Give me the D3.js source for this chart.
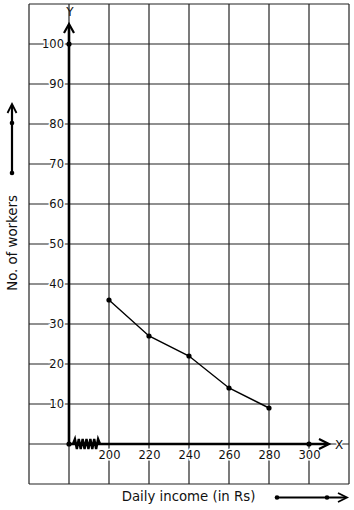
<!DOCTYPE html>
<html>
<head>
<meta charset="utf-8">
<script src="https://cdn.jsdelivr.net/npm/d3@7"></script>
<style>
  html, body { margin: 0; padding: 0; background: #fff; }
  svg { display: block; }
  text { font-family: "DejaVu Sans", sans-serif; fill: #111; }
</style>
</head>
<body>
<svg id="chart" width="354" height="510"></svg>
<script>
// ---- data ----
const incomes = [200, 220, 240, 260, 280];
const workers = [36, 27, 22, 14, 9];
const xTickValues = [200, 220, 240, 260, 280, 300];
const yTickValues = [10, 20, 30, 40, 50, 60, 70, 80, 90, 100];
const xGridValues = [160, 180, 200, 220, 240, 260, 280, 300, 320];
const yGridValues = [-10, 0, 10, 20, 30, 40, 50, 60, 70, 80, 90, 100, 110];
const axisDots = [{x: 180, y: 0}, {x: 180, y: 100}, {x: 300, y: 0}];
const xTitle = "Daily income (in Rs)";
const yTitle = "No. of workers";

// ---- scales ----
const svg = d3.select("#chart");
const x = d3.scaleLinear().domain([160, 320]).range([29, 349]);
const y = d3.scaleLinear().domain([-10, 110]).range([484, 4]);

// ---- grid ----
const grid = svg.append("g").attr("stroke", "#222").attr("stroke-width", 1.2);
grid.selectAll("line.v").data(xGridValues).join("line")
  .attr("x1", d => x(d)).attr("x2", d => x(d))
  .attr("y1", y(110)).attr("y2", y(-10));
grid.selectAll("line.h").data(yGridValues).join("line")
  .attr("x1", x(160)).attr("x2", x(320))
  .attr("y1", d => y(d)).attr("y2", d => y(d));

// ---- tick labels via d3 axes ----
const yAxis = d3.axisLeft(y).tickValues(yTickValues).tickSize(0).tickPadding(5);
const gy = svg.append("g").attr("transform", `translate(${x(180)},0)`).call(yAxis);
gy.select(".domain").remove();
gy.selectAll("text").attr("font-size", 11.5).attr("font-family", "DejaVu Sans")
  .attr("fill", "#111").attr("stroke", "#fff").attr("stroke-width", 3)
  .attr("paint-order", "stroke");

const xAxis = d3.axisBottom(x).tickValues(xTickValues).tickSize(0).tickPadding(7);
const gx = svg.append("g").attr("transform", `translate(0,${y(0)})`).call(xAxis);
gx.select(".domain").remove();
gx.selectAll("text").attr("font-size", 11.5).attr("font-family", "DejaVu Sans")
  .attr("fill", "#111").attr("stroke", "#fff").attr("stroke-width", 3)
  .attr("paint-order", "stroke");

// ---- main axes (thick, with arrows) ----
const axes = svg.append("g").attr("stroke", "#000").attr("fill", "none")
  .attr("stroke-width", 2.6);
const ox = x(180), oy = y(0);
const yTop = 24, xEnd = 329;
axes.append("line").attr("x1", ox).attr("y1", oy).attr("x2", ox).attr("y2", yTop + 1);
axes.append("path").attr("d", `M${ox - 5},${yTop + 9} L${ox},${yTop} L${ox + 5},${yTop + 9}`)
  .attr("stroke-width", 2.2);
axes.append("line").attr("x1", ox).attr("y1", oy).attr("x2", xEnd - 1).attr("y2", oy);
axes.append("path").attr("d", `M${xEnd - 10},${oy - 5} L${xEnd},${oy} L${xEnd - 10},${oy + 5}`)
  .attr("stroke-width", 2.2);

// zigzag (axis break)
const zz = [];
const zx0 = 73, zx1 = 100, teeth = 14;
for (let i = 0; i <= teeth; i++) {
  const px = zx0 + (zx1 - zx0) * i / teeth;
  const py = i === 0 || i === teeth ? oy : (i % 2 ? oy - 5 : oy + 5);
  zz.push([px, py]);
}
svg.append("path").attr("d", d3.line()(zz)).attr("stroke", "#000")
  .attr("stroke-width", 2.4).attr("fill", "none");

// axis dots
svg.selectAll("circle.ad").data(axisDots).join("circle")
  .attr("cx", d => x(d.x)).attr("cy", d => y(d.y)).attr("r", 2.6).attr("fill", "#000");

// axis letters
svg.append("text").attr("x", ox + 1).attr("y", 16).attr("text-anchor", "middle")
  .attr("font-size", 12).text("Y");
svg.append("text").attr("x", 339).attr("y", oy + 4.5).attr("text-anchor", "middle")
  .attr("font-size", 12).attr("stroke", "#fff").attr("stroke-width", 3)
  .attr("paint-order", "stroke").text("X");

// ---- data line ----
const pts = incomes.map((d, i) => [x(d), y(workers[i])]);
svg.append("path").attr("d", d3.line()(pts)).attr("stroke", "#000")
  .attr("stroke-width", 1.4).attr("fill", "none");
svg.selectAll("circle.pt").data(pts).join("circle")
  .attr("cx", d => d[0]).attr("cy", d => d[1]).attr("r", 2.6).attr("fill", "#000");

// ---- titles ----
svg.append("text").attr("x", 188.5).attr("y", 501).attr("text-anchor", "middle")
  .attr("font-size", 13.3).text(xTitle);
svg.append("text").attr("transform", "translate(16.5,243) rotate(-90)")
  .attr("text-anchor", "middle").attr("font-size", 13.3).text(yTitle);

// decorative arrows
const deco = svg.append("g").attr("stroke", "#000").attr("fill", "none");
// vertical (left)
deco.append("line").attr("x1", 12).attr("y1", 173).attr("x2", 12).attr("y2", 105)
  .attr("stroke-width", 2.2);
deco.append("path").attr("d", "M7.5,113 L12,104 L16.5,113").attr("stroke-width", 1.8);
svg.append("circle").attr("cx", 12).attr("cy", 123).attr("r", 2.3).attr("fill", "#000");
svg.append("circle").attr("cx", 12).attr("cy", 173).attr("r", 2.3).attr("fill", "#000");
// horizontal (bottom right)
deco.append("line").attr("x1", 277).attr("y1", 497.5).attr("x2", 346).attr("y2", 497.5)
  .attr("stroke-width", 2);
deco.append("path").attr("d", "M338,493 L347,497.5 L338,502").attr("stroke-width", 1.8);
svg.append("circle").attr("cx", 277).attr("cy", 497.5).attr("r", 2.3).attr("fill", "#000");
svg.append("circle").attr("cx", 327).attr("cy", 497.5).attr("r", 2.3).attr("fill", "#000");
</script>
</body>
</html>
